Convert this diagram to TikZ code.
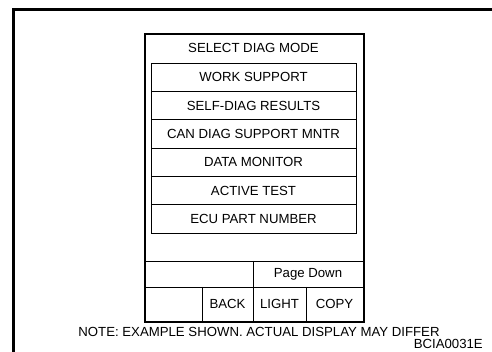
\documentclass[tikz,border=0pt]{standalone}
\usepackage{fontspec}
\setmainfont{Liberation Sans}
\begin{document}
\begin{tikzpicture}[x=1pt,y=-1pt,
  lbl/.style={font=\fontsize{13.2}{15}\selectfont, inner sep=0pt},
  itembox/.style={draw, line width=0.9pt, minimum width=205pt, minimum height=28.33pt, inner sep=0pt, font=\fontsize{13.2}{15}\selectfont},
  cellline/.style={line width=0.9pt},
  screen/.style={draw, line width=1.8pt},
  frameline/.style={line width=3pt}]
\useasboundingbox (0,0) rectangle (492,352);
% outer frame (open at right and bottom)
\draw[frameline] (13.5,352) -- (13.5,10) -- (492,10);
% screen box
\node[screen, minimum width=219pt, minimum height=288pt, inner sep=0pt, anchor=north west] (scr) at (144,33) {};
\node[lbl] (title) at (253.5,48) {SELECT DIAG MODE};
% menu items
\node[itembox] (i1) at (253.5,77.17) {WORK SUPPORT};
\node[itembox] (i2) at (253.5,105.5) {SELF-DIAG RESULTS};
\node[itembox] (i3) at (253.5,133.83) {CAN DIAG SUPPORT MNTR};
\node[itembox] (i4) at (253.5,162.17) {DATA MONITOR};
\node[itembox] (i5) at (253.5,190.5) {ACTIVE TEST};
\node[itembox] (i6) at (253.5,218.83) {ECU PART NUMBER};
% bottom rows
\coordinate (r1l) at (144,261); \coordinate (r1r) at (363,261);
\coordinate (r2l) at (144,287); \coordinate (r2r) at (363,287);
\draw[cellline] (r1l) -- (r1r);
\draw[cellline] (r2l) -- (r2r);
\coordinate (d1t) at (253,261); \coordinate (d1b) at (253,321);
\coordinate (d2t) at (202,287); \coordinate (d2b) at (202,321);
\coordinate (d3t) at (306,287); \coordinate (d3b) at (306,321);
\draw[cellline] (d1t) -- (d1b);
\draw[cellline] (d2t) -- (d2b);
\draw[cellline] (d3t) -- (d3b);
\node[lbl] (pgdn) at (308,274) {Page Down};
\node[lbl] (back) at (227.5,304) {BACK};
\node[lbl] (light) at (279.5,304) {LIGHT};
\node[lbl] (copy) at (334.5,304) {COPY};
% note
\node[lbl] (note) at (259,331.5) {NOTE: EXAMPLE SHOWN. ACTUAL DISPLAY MAY DIFFER};
\node[lbl, anchor=east] (code) at (483,343.5) {BCIA0031E};
\end{tikzpicture}
\end{document}
